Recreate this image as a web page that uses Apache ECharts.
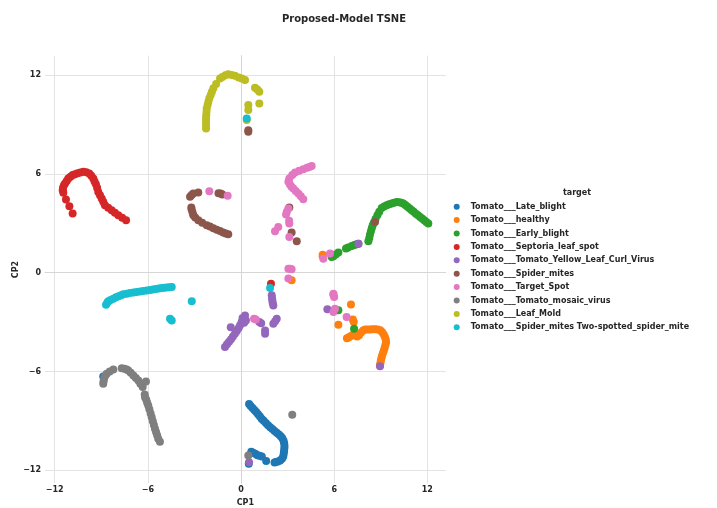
<!DOCTYPE html>
<html>
<head>
<meta charset="utf-8">
<script src="https://cdn.jsdelivr.net/npm/echarts@6/dist/echarts.min.js"></script>
<style>html,body{margin:0;padding:0;background:#fff}#c{width:717px;height:508px}</style>
</head>
<body>
<div id="c"></div>
<script>
const categories = [
  'Tomato___Late_blight','Tomato___healthy','Tomato___Early_blight','Tomato___Septoria_leaf_spot',
  'Tomato___Tomato_Yellow_Leaf_Curl_Virus','Tomato___Spider_mites','Tomato___Target_Spot',
  'Tomato___Tomato_mosaic_virus','Tomato___Leaf_Mold','Tomato___Spider_mites Two-spotted_spider_mite'
];
const colors = ['#1f77b4','#ff7f0e','#2ca02c','#d62728','#9467bd','#8c564b','#e377c2','#7f7f7f','#bcbd22','#17becf'];
const xTicks = [-12,-6,0,6,12];
const yTicks = [-12,-6,0,6,12];

const lateBlight = [[0.52,-7.97],[0.62,-8.1],[0.74,-8.22],[0.86,-8.34],[0.98,-8.46],[1.1,-8.6],[1.22,-8.74],[1.34,-8.88],[1.46,-9.0],[1.6,-9.13],[1.74,-9.26],[1.88,-9.39],[2.02,-9.5],[2.16,-9.62],[2.3,-9.72],[2.44,-9.82],[2.56,-9.94],[2.66,-10.06],[2.74,-10.2],[2.78,-10.36],[2.8,-10.52],[2.79,-10.68],[2.77,-10.84],[2.75,-11.0],[2.72,-11.16],[2.64,-11.3],[2.52,-11.4],[2.38,-11.46],[2.24,-11.5],[2.16,-11.52],[0.66,-10.88],[0.78,-10.94],[0.92,-11.0],[1.06,-11.08],[1.2,-11.12],[1.34,-11.16],[1.62,-11.44],[-8.87,-6.3],[0.5,-11.6]];
const healthy = [[5.95,-1.34],[7.08,-1.93],[6.27,-3.16],[7.2,-2.85],[7.26,-3.0],[6.82,-3.98],[6.95,-3.92],[7.08,-3.84],[7.2,-3.78],[7.34,-3.8],[7.48,-3.88],[7.6,-3.8],[7.72,-3.65],[7.86,-3.52],[8.0,-3.46],[8.16,-3.45],[8.32,-3.45],[8.48,-3.44],[8.64,-3.44],[8.8,-3.45],[8.96,-3.5],[9.08,-3.6],[9.18,-3.74],[9.26,-3.9],[9.32,-4.06],[9.34,-4.22],[9.3,-4.4],[9.25,-4.56],[9.2,-4.72],[9.14,-4.88],[9.08,-5.04],[9.04,-5.2],[9.0,-5.36],[8.97,-5.52],[8.95,-5.64],[5.26,1.09],[5.26,0.99],[3.26,-0.47]];
const earlyBlight = [[5.84,0.95],[5.95,1.0],[6.1,1.1],[6.27,1.22],[6.76,1.46],[6.9,1.52],[7.13,1.62],[7.3,1.68],[7.45,1.72],[7.56,1.76],[8.2,1.9],[8.26,2.1],[8.3,2.3],[8.36,2.5],[8.42,2.7],[8.48,2.88],[8.56,3.05],[8.66,3.25],[8.78,3.48],[8.9,3.7],[9.06,3.93],[9.22,4.02],[9.38,4.09],[9.54,4.15],[9.7,4.2],[9.86,4.25],[10.03,4.29],[10.18,4.28],[10.32,4.24],[10.45,4.19],[10.58,4.1],[10.72,4.0],[10.86,3.9],[10.99,3.79],[11.12,3.69],[11.26,3.58],[11.4,3.48],[11.53,3.38],[11.66,3.28],[11.8,3.18],[11.93,3.08],[12.06,2.98],[6.27,-2.29],[7.28,-3.4]];
const septoria = [[-10.84,3.59],[-11.05,4.03],[-11.27,4.44],[-11.44,4.85],[-11.48,5.0],[-11.46,5.15],[-11.4,5.3],[-11.33,5.41],[-11.22,5.57],[-11.12,5.71],[-10.98,5.82],[-10.84,5.92],[-10.69,5.98],[-10.52,6.04],[-10.34,6.08],[-10.15,6.12],[-9.96,6.1],[-9.77,6.02],[-9.64,5.88],[-9.51,5.71],[-9.43,5.54],[-9.34,5.37],[-9.26,5.14],[-9.19,4.9],[-9.08,4.7],[-8.97,4.5],[-8.87,4.3],[-8.76,4.09],[-8.55,3.94],[-8.33,3.79],[-8.12,3.64],[-7.9,3.48],[-7.65,3.33],[-7.4,3.18],[1.93,-0.67]];
const tylcv = [[-1.03,-4.52],[-0.9,-4.35],[-0.77,-4.2],[-0.64,-4.04],[-0.52,-3.88],[-0.39,-3.71],[-0.27,-3.54],[-0.15,-3.36],[-0.06,-3.2],[0.04,-3.0],[0.15,-2.8],[0.26,-2.6],[0.1,-2.75],[0.32,-2.9],[0.2,-3.05],[-0.66,-3.31],[1.18,-3.0],[1.3,-3.08],[1.55,-3.51],[1.55,-3.71],[2.08,-3.1],[2.2,-2.95],[2.3,-2.8],[1.98,-1.38],[2.0,-1.55],[2.02,-1.7],[2.04,-1.85],[2.08,-1.99],[5.56,-2.23],[8.95,-5.68],[7.56,1.76],[0.52,-11.51]];
const spiderMites = [[-3.28,4.6],[-3.18,4.72],[-3.07,4.8],[-2.75,4.86],[-1.45,4.82],[-1.31,4.8],[-1.2,4.75],[-3.2,3.95],[-3.18,3.83],[-3.12,3.65],[-3.07,3.48],[-2.95,3.35],[-2.75,3.18],[-2.5,3.03],[-2.21,2.88],[-2.0,2.8],[-1.78,2.7],[-1.56,2.61],[-1.35,2.52],[-1.15,2.44],[-0.98,2.38],[-0.82,2.33],[0.47,8.65],[0.47,8.55],[3.11,3.95],[3.26,2.43],[3.59,1.9],[8.63,3.08]];
const targetSpot = [[4.55,6.48],[4.4,6.42],[4.25,6.36],[4.01,6.28],[3.75,6.18],[3.48,6.08],[3.3,5.92],[3.11,5.71],[3.05,5.51],[3.15,5.35],[3.25,5.22],[3.37,5.11],[3.52,4.96],[3.69,4.8],[3.85,4.63],[4.01,4.46],[3.05,3.89],[2.95,3.7],[2.9,3.53],[3.11,2.98],[3.1,3.15],[2.4,2.77],[2.19,2.51],[3.11,2.16],[-2.04,4.94],[-0.86,4.66],[5.73,1.16],[5.3,0.85],[3.16,0.24],[3.05,0.24],[3.26,0.2],[3.05,-0.36],[0.84,-2.8],[0.95,-2.85],[5.95,-1.28],[6.0,-1.48],[5.95,-2.39],[6.05,-2.2],[6.8,-2.7]];
const mosaic = [[-8.87,-6.75],[-8.85,-6.6],[-8.82,-6.44],[-8.75,-6.28],[-8.65,-6.14],[-8.45,-6.0],[-8.22,-5.88],[-7.68,-5.8],[-7.5,-5.84],[-7.36,-5.88],[-7.26,-5.94],[-7.1,-6.08],[-6.93,-6.24],[-6.77,-6.4],[-6.61,-6.55],[-6.48,-6.74],[-6.33,-6.95],[-6.12,-6.61],[-6.2,-7.4],[-6.18,-7.56],[-6.1,-7.72],[-6.04,-7.9],[-5.97,-8.07],[-5.9,-8.3],[-5.82,-8.55],[-5.75,-8.78],[-5.68,-9.02],[-5.61,-9.25],[-5.54,-9.48],[-5.47,-9.68],[-5.4,-9.88],[-5.33,-10.09],[-5.22,-10.26],[0.47,-11.1],[3.3,-8.63]];
const leafMold = [[-2.25,8.75],[-2.25,8.95],[-2.25,9.15],[-2.25,9.36],[-2.24,9.56],[-2.22,9.76],[-2.21,9.97],[-2.15,10.18],[-2.1,10.38],[-2.04,10.58],[-1.95,10.78],[-1.87,10.98],[-1.78,11.19],[-1.6,11.45],[-1.35,11.79],[-1.2,11.88],[-1.0,11.98],[-0.82,12.04],[-0.6,12.0],[-0.39,11.95],[-0.15,11.85],[0.05,11.78],[0.26,11.69],[0.9,11.22],[1.05,11.12],[1.18,10.98],[1.18,10.27],[0.47,10.17],[0.47,9.87],[0.37,9.26]];
const twoSpotted = [[-8.69,-1.95],[-8.6,-1.82],[-8.54,-1.74],[-8.4,-1.66],[-8.22,-1.58],[-8.05,-1.5],[-7.88,-1.43],[-7.72,-1.37],[-7.58,-1.32],[-7.36,-1.28],[-7.15,-1.24],[-6.93,-1.21],[-6.72,-1.18],[-6.5,-1.15],[-6.29,-1.12],[-6.07,-1.09],[-5.86,-1.06],[-5.67,-1.03],[-5.48,-1.0],[-5.3,-0.97],[-5.11,-0.94],[-4.95,-0.92],[-4.78,-0.9],[-4.62,-0.89],[-4.46,-0.88],[-3.17,-1.73],[-4.57,-2.8],[-4.46,-2.9],[0.37,9.36],[1.87,-0.93]];

const seriesData = [lateBlight, healthy, earlyBlight, septoria, tylcv, spiderMites, targetSpot, mosaic, leafMold, twoSpotted];

const FONT = 'DejaVu Sans';
const TXT = '#262626';
const GRID = '#e3e3e3';
const fmt = v => String(v).replace('-', '\u2212');

const chart = echarts.init(document.getElementById('c'), null, {renderer: 'canvas'});
chart.setOption({
  animation: false,
  color: colors,
  graphic: [
    {type: 'text', x: 344, y: 19, style: {text: 'Proposed-Model TSNE', fill: TXT, font: 'bold 10px "DejaVu Sans"', textAlign: 'center', textVerticalAlign: 'middle'}},
    {type: 'text', x: 577, y: 193, style: {text: 'target', fill: TXT, font: 'bold 8px "DejaVu Sans"', textAlign: 'center', textVerticalAlign: 'middle'}}
  ],
  legend: {
    orient: 'vertical', left: 453.7, top: 200.7, padding: 0,
    itemWidth: 18, itemHeight: 6, itemGap: 1.4, icon: 'circle',
    textStyle: {fontFamily: FONT, fontWeight: 'bold', fontSize: 8, color: TXT, lineHeight: 12},
    data: categories
  },
  grid: {left: 45, right: 271.3, top: 55.7, bottom: 24.7, containLabel: false, outerBoundsMode: 'none'},
  xAxis: {
    type: 'value', min: -12.62, max: 13.18,
    name: 'CP1', nameLocation: 'middle', nameGap: 16, nameMoveOverlap: false,
    nameTextStyle: {fontFamily: FONT, fontWeight: 'bold', fontSize: 8, color: TXT},
    axisLine: {show: true, lineStyle: {color: '#d6d6d6', width: 1}},
    axisTick: {show: false, customValues: xTicks},
    axisLabel: {customValues: xTicks, formatter: fmt, margin: 3, fontFamily: FONT, fontWeight: 'bold', fontSize: 8, color: TXT},
    splitLine: {show: true, lineStyle: {color: GRID, width: 1}}
  },
  yAxis: {
    type: 'value', min: -12.79, max: 13.17,
    name: 'CP2', nameLocation: 'middle', nameGap: 25, nameRotate: 90, nameMoveOverlap: false,
    nameTextStyle: {fontFamily: FONT, fontWeight: 'bold', fontSize: 8, color: TXT},
    axisLine: {show: true, lineStyle: {color: '#d6d6d6', width: 1}},
    axisTick: {show: false, customValues: yTicks},
    axisLabel: {customValues: yTicks, formatter: fmt, margin: 4, fontFamily: FONT, fontWeight: 'bold', fontSize: 8, color: TXT},
    splitLine: {show: true, lineStyle: {color: GRID, width: 1}}
  },
  series: categories.map((name, i) => ({
    name: name, type: 'scatter', data: seriesData[i],
    symbolSize: 8, itemStyle: {color: colors[i], opacity: 1}
  }))
});
</script>
</body>
</html>
